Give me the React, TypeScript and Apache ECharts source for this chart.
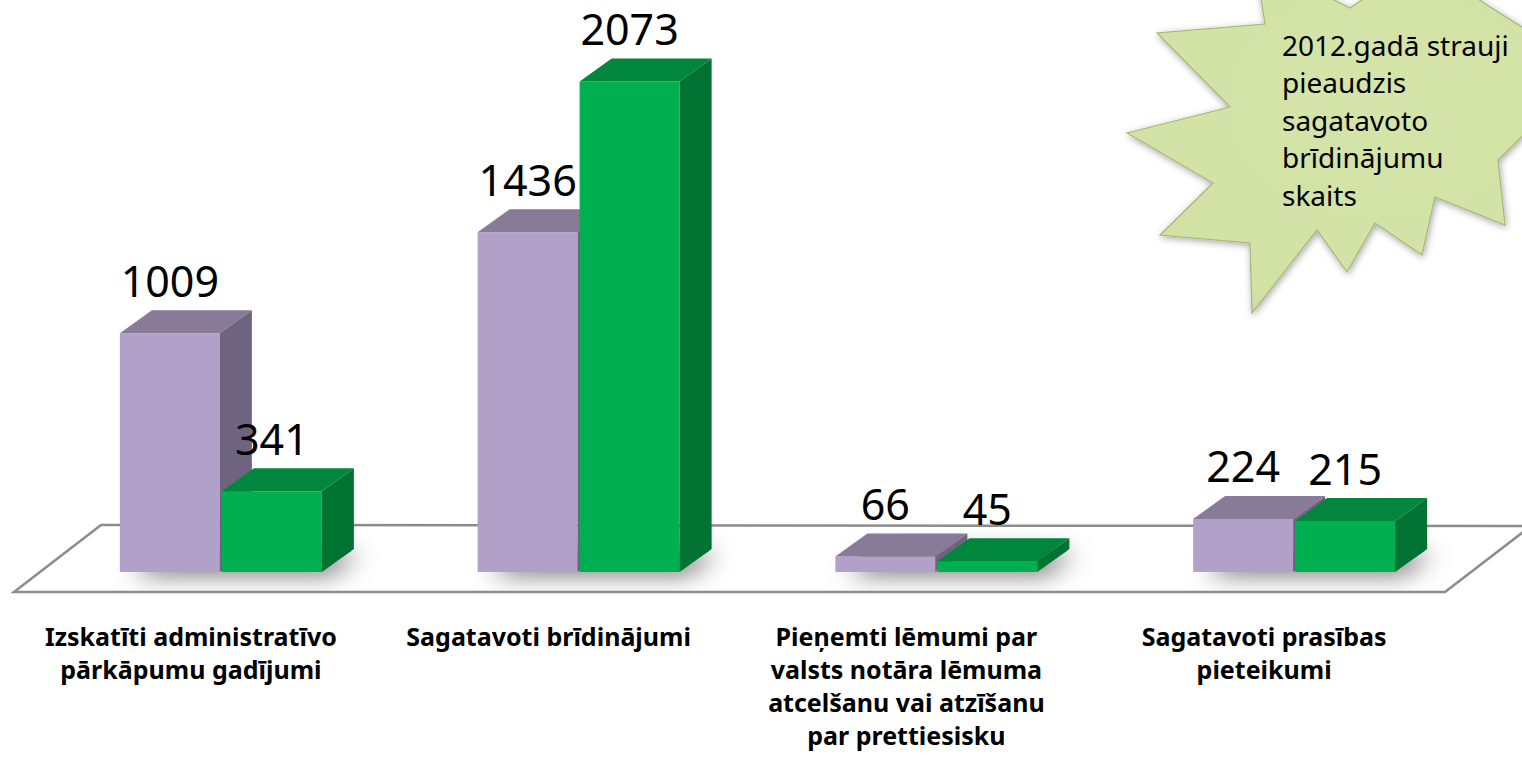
import React, { useEffect, useRef } from 'react';
import * as echarts from 'echarts';

const categories = [
  'Izskatīti administratīvo\npārkāpumu gadījumi',
  'Sagatavoti brīdinājumi',
  'Pieņemti lēmumi par\nvalsts notāra lēmuma\natcelšanu vai atzīšanu\npar prettiesisku',
  'Sagatavoti prasības\npieteikumi',
];
const values2011 = [1009, 1436, 66, 224];
const values2012 = [341, 2073, 45, 215];
const seriesNames = ['2011', '2012'];
const starLines = ['2012.gadā strauji', 'pieaudzis', 'sagatavoto', 'brīdinājumu', 'skaits'];

const BAR_W = 100;
const GAP = 2;
const DX = 32;
const DY = -23;

const palettes = [
  { front: '#b1a0c7', top: '#887b98', side: '#6e6480' },
  { front: '#00b050', top: '#00873d', side: '#007333' },
];

const starPoints: number[][] = [
  [1127, 133], [1230, 107], [1157, 33], [1265, 24], [1255, -40], [1350, 8],
  [1420, -40], [1487, 5], [1590, 70], [1498, 160], [1505, 225], [1435, 197],
  [1422, 255], [1375, 223], [1347, 272], [1317, 230], [1252, 313], [1250, 243],
  [1160, 235], [1213, 183],
];

function makeRender(s: number) {
  return (params: any, api: any) => {
    const cat = api.value(0);
    const v = api.value(1);
    const top = api.coord([cat, v]);
    const base = api.coord([cat, 0]);
    const cx = top[0];
    const yTop = top[1];
    const yBase = base[1];
    const x0 = s === 0 ? cx - GAP / 2 - BAR_W : cx + GAP / 2;
    const x1 = x0 + BAR_W;
    const p = palettes[s];
    const children: any[] = [];
    if (s === 0) {
      const xL = cx - GAP / 2 - BAR_W;
      const xR = cx + GAP / 2 + BAR_W;
      children.push({
        type: 'polygon',
        shape: { points: [[xL + 4, yBase - 1], [xR, yBase - 1], [xR + DX - 2, yBase + DY + 2], [xL + DX, yBase + DY + 2]] },
        style: { fill: '#999', shadowBlur: 24, shadowColor: 'rgba(0,0,0,0.6)', shadowOffsetX: 8, shadowOffsetY: 3 },
      });
    }
    children.push(
      {
        type: 'polygon',
        shape: { points: [[x0, yTop], [x1, yTop], [x1, yBase], [x0, yBase]] },
        style: { fill: p.front },
      },
      {
        type: 'polygon',
        shape: { points: [[x0, yTop], [x0 + DX, yTop + DY], [x1 + DX, yTop + DY], [x1, yTop]] },
        style: { fill: p.top },
      },
      {
        type: 'polygon',
        shape: { points: [[x1, yTop], [x1 + DX, yTop + DY], [x1 + DX, yBase + DY], [x1, yBase]] },
        style: { fill: p.side },
      },
      {
        type: 'text',
        style: {
          text: String(v),
          x: (x0 + x1) / 2,
          y: yTop - 53,
          align: 'center',
          verticalAlign: 'middle',
          fontSize: 43,
          fontFamily: '"Noto Sans", sans-serif',
          fill: '#000',
        },
      }
    );
    return { type: 'group', children };
  };
}

export default function App() {
  const ref = useRef<HTMLDivElement>(null);
  useEffect(() => {
    if (!ref.current) return;
    const chart = echarts.init(ref.current, undefined, { renderer: 'svg' });
    chart.setOption({
      animation: false,
      backgroundColor: '#ffffff',
      grid: { left: 42, right: 49, top: 4, height: 568 },
      xAxis: {
        type: 'category',
        data: categories,
        axisLine: { show: false },
        axisTick: { show: false },
        axisLabel: {
          interval: 0,
          margin: 47,
          fontSize: 25,
          fontWeight: 'bold',
          fontFamily: '"Noto Sans", sans-serif',
          color: '#000',
          lineHeight: 33,
          padding: [0, 60, 0, 0],
        },
      },
      yAxis: {
        type: 'value',
        min: 0,
        max: 2400,
        show: false,
        splitLine: { show: false },
      },
      graphic: [
        {
          type: 'polygon',
          z: 0,
          shape: { points: [[101, 525], [1531, 526], [1445, 592], [14, 592]] },
          style: { fill: '#ffffff', stroke: '#8c8c8c', lineWidth: 2.5 },
        },
        {
          type: 'polygon',
          z: 10,
          shape: { points: starPoints },
          style: {
            fill: {
              type: 'radial',
              x: 0.55,
              y: 0.4,
              r: 0.75,
              colorStops: [
                { offset: 0, color: '#d5e4a8' },
                { offset: 0.8, color: '#d2e1a4' },
                { offset: 1, color: '#c3d493' },
              ],
            },
            stroke: '#a4b877',
            lineWidth: 1.2,
            shadowBlur: 7,
            shadowColor: 'rgba(0,0,0,0.35)',
            shadowOffsetX: 1,
            shadowOffsetY: 2,
          },
        },
        {
          type: 'text',
          z: 11,
          x: 1282,
          y: 26,
          style: {
            text: starLines.join('\n'),
            fontSize: 28,
            lineHeight: 37.5,
            fontFamily: '"Noto Sans", sans-serif',
            fill: '#000',
            verticalAlign: 'top',
            align: 'left',
          },
        },
      ],
      series: [
        {
          type: 'custom',
          name: seriesNames[0],
          renderItem: makeRender(0),
          encode: { x: 0, y: 1 },
          data: values2011.map((v, i) => [i, v]),
          z: 2,
        },
        {
          type: 'custom',
          name: seriesNames[1],
          renderItem: makeRender(1),
          encode: { x: 0, y: 1 },
          data: values2012.map((v, i) => [i, v]),
          z: 3,
        },
      ],
    });
    return () => chart.dispose();
  }, []);
  return (
    <div
      ref={ref}
      style={{ position: 'absolute', left: 0, top: 0, width: 1522, height: 765 }}
    />
  );
}
